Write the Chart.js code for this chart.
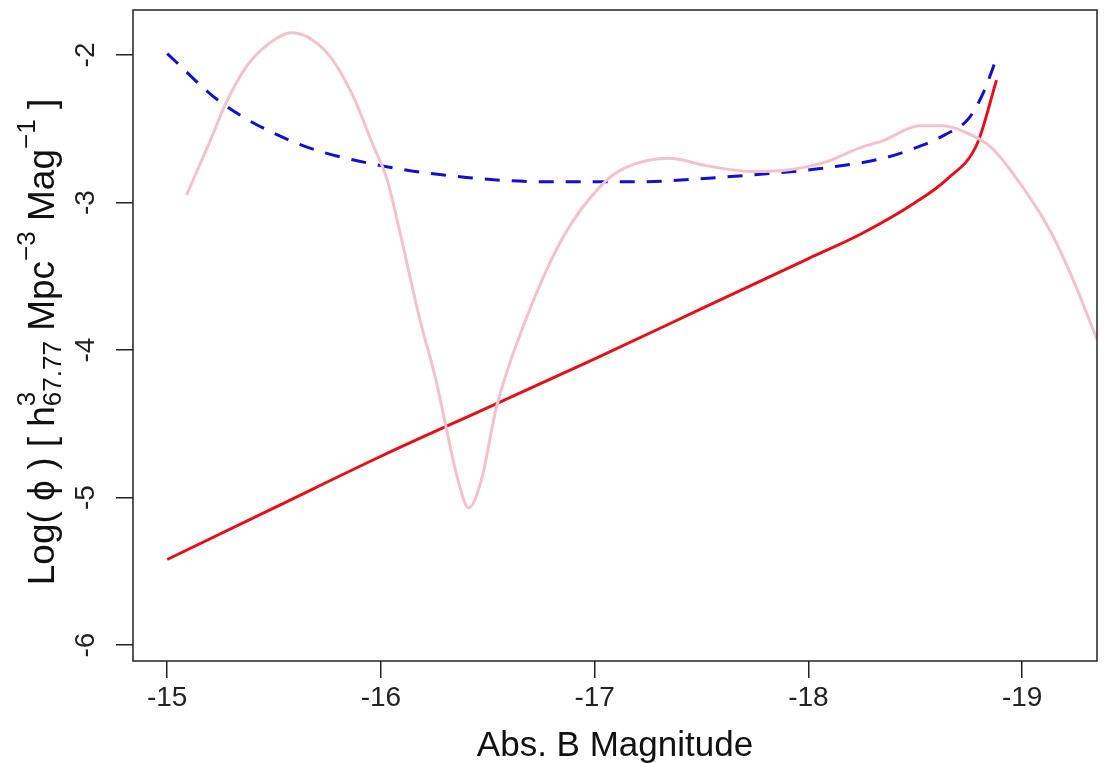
<!DOCTYPE html>
<html>
<head>
<meta charset="utf-8">
<script src="https://cdn.jsdelivr.net/npm/chart.js@4.4.1/dist/chart.umd.min.js"></script>
<style>
  html, body { margin: 0; padding: 0; background: #fff; }
  #wrap { width: 1105px; height: 763px; }
</style>
</head>
<body>
<div id="wrap"><canvas id="lf"></canvas></div>
<script>
// magnitude grid and values
var redMag = [-15, -15.5, -16, -16.5, -17, -17.5, -18, -18.25, -18.5, -18.65, -18.79, -18.88];
var redLogPhi = [-5.42, -5.07, -4.72, -4.39, -4.06, -3.72, -3.38, -3.21, -3.0, -2.84, -2.60, -2.17];

var blueMag = [-15, -15.25, -15.61, -16, -16.4, -16.79, -17.2, -17.58, -17.85, -18.11, -18.35, -18.5, -18.64, -18.75, -18.82, -18.88];
var blueLogPhi = [-1.99, -2.32, -2.60, -2.75, -2.83, -2.86, -2.86, -2.83, -2.80, -2.76, -2.70, -2.63, -2.54, -2.43, -2.25, -2.02];

var pinkMag = [-15.09, -15.19, -15.28, -15.37, -15.47, -15.58, -15.75, -15.87, -15.96, -16.03, -16.09, -16.18, -16.26,
  -16.31, -16.36, -16.41, -16.47, -16.54, -16.66, -16.85, -17.04, -17.15, -17.35, -17.52, -17.74, -17.9, -18.07,
  -18.24, -18.35, -18.52, -18.63, -18.71, -18.85, -18.97, -19.13, -19.24, -19.35];
var pinkLogPhi = [-2.95, -2.62, -2.31, -2.08, -1.93, -1.85, -1.99, -2.28, -2.60, -2.85, -3.21, -3.78, -4.22,
  -4.56, -4.88, -5.07, -4.88, -4.39, -3.86, -3.24, -2.87, -2.76, -2.70, -2.75, -2.79, -2.78, -2.73,
  -2.63, -2.58, -2.48, -2.48, -2.51, -2.62, -2.83, -3.19, -3.53, -3.93];

var xTicks = [-15, -16, -17, -18, -19];
var yTicks = [-2, -3, -4, -5, -6];

var FAM = "'Liberation Sans', Arial, sans-serif";

function pts(xs, ys) {
  return xs.map(function (x, i) { return { x: x, y: ys[i] }; });
}

function noPad(s) {
  s.paddingTop = 0; s.paddingBottom = 0; s.paddingLeft = 0; s.paddingRight = 0;
}

// frame round the plot area, like R's box()
var boxPlugin = {
  id: "box",
  afterDraw: function (chart) {
    var a = chart.chartArea, c = chart.ctx;
    c.save();
    c.strokeStyle = "#222";
    c.lineWidth = 1.5;
    c.strokeRect(a.left, a.top, a.right - a.left, a.bottom - a.top);
    c.restore();
  }
};

// y title with super- and subscripts
var yTitlePlugin = {
  id: "ytitle",
  afterDraw: function (chart) {
    var c = chart.ctx;
    var big = 37, small = 26;
    var parts = [
      { t: "Log( ", s: big, dy: 0 },
      { t: "\u03D5", s: big, dy: 0 },
      { t: " ) [ h", s: big, dy: 0 },
      { t: "3", s: small, dy: -16, stack: true },
      { t: "67.77", s: small, dy: 10 },
      { t: " Mpc", s: big, dy: 0 },
      { t: "\u22123", s: small, dy: -16 },
      { t: " Mag", s: big, dy: 0 },
      { t: "\u22121", s: small, dy: -16 },
      { t: " ]", s: big, dy: 0 }
    ];
    var total = 0;
    parts.forEach(function (p) {
      c.font = p.s + "px " + FAM;
      p.w = c.measureText(p.t).width;
      if (!p.stack) total += p.w;
    });
    c.save();
    c.translate(44, 342);
    c.rotate(-Math.PI / 2);
    c.fillStyle = "#111";
    c.textBaseline = "middle";
    var x = -total / 2;
    parts.forEach(function (p) {
      c.font = p.s + "px " + FAM;
      c.fillText(p.t, x, p.dy);
      if (!p.stack) x += p.w;
    });
    c.restore();
  }
};

new Chart(document.getElementById("lf"), {
  type: "line",
  data: {
    datasets: [
      {
        label: "pink",
        data: pts(pinkMag, pinkLogPhi),
        borderColor: "#f2c2ca",
        borderWidth: 3,
        pointRadius: 0,
        cubicInterpolationMode: "monotone"
      },
      {
        label: "blue",
        data: pts(blueMag, blueLogPhi),
        borderColor: "#1010d0",
        borderWidth: 3,
        borderDash: [15, 12],
        pointRadius: 0,
        cubicInterpolationMode: "monotone"
      },
      {
        label: "red",
        data: pts(redMag, redLogPhi),
        borderColor: "#e3101a",
        borderWidth: 3,
        pointRadius: 0,
        cubicInterpolationMode: "monotone"
      }
    ]
  },
  options: {
    responsive: true,
    maintainAspectRatio: false,
    animation: false,
    layout: { padding: { top: 10, right: 8, left: 0, bottom: 0 } },
    plugins: { legend: { display: false }, tooltip: { enabled: false } },
    scales: {
      x: {
        type: "linear",
        reverse: true,
        min: -19.35,
        max: -14.84,
        afterBuildTicks: function (s) { s.ticks = xTicks.map(function (v) { return { value: v }; }); },
        afterFit: function (s) { s.height = 102; noPad(s); },
        border: { display: false },
        grid: { drawOnChartArea: false, color: "#222", lineWidth: 1.5, tickLength: 17 },
        ticks: {
          color: "#222",
          padding: 3,
          maxRotation: 0,
          font: { family: FAM, size: 28 },
          callback: function (v) { return String(v); }
        },
        title: {
          display: true,
          text: "Abs. B Magnitude",
          color: "#111",
          padding: { top: 0, bottom: -4 },
          font: { family: FAM, size: 35 }
        }
      },
      y: {
        min: -6.108,
        max: -1.695,
        afterBuildTicks: function (s) { s.ticks = yTicks.map(function (v) { return { value: v }; }); },
        afterFit: function (s) { s.width = 133; noPad(s); },
        border: { display: false },
        grid: { drawOnChartArea: false, color: "#222", lineWidth: 1.5, tickLength: 17 },
        ticks: {
          color: "#222",
          padding: 17,
          minRotation: 90,
          maxRotation: 90,
          crossAlign: "center",
          font: { family: FAM, size: 28 },
          callback: function (v) { return String(v); }
        }
      }
    }
  },
  plugins: [boxPlugin, yTitlePlugin]
});
</script>
</body>
</html>
